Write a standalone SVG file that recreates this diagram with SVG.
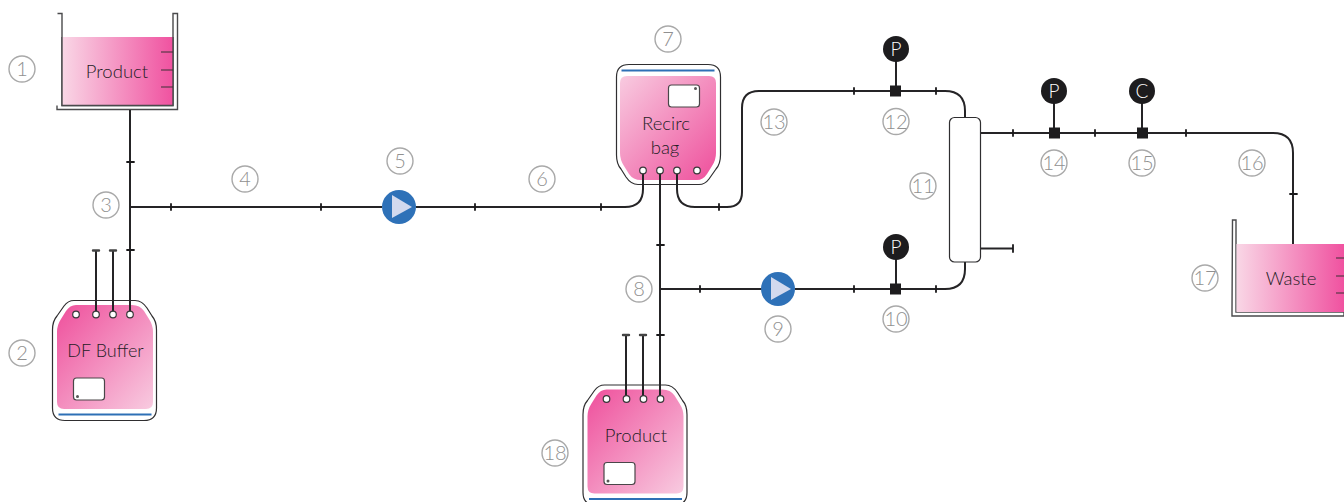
<svg xmlns="http://www.w3.org/2000/svg" width="1344" height="502" viewBox="0 0 1344 502">
<style>
.pipe{fill:none;stroke:#252426;stroke-width:2}
.tick{fill:none;stroke:#1a191b;stroke-width:1.8;stroke-linecap:round}
.cap{fill:none;stroke:#444;stroke-width:2.4;stroke-linecap:round}
.lbl{font-family:"Lato","Liberation Sans",sans-serif;font-size:18.5px;font-weight:300;fill:#231c24;text-anchor:middle;opacity:.99}
.num{font-family:"Lato","Liberation Sans",sans-serif;font-size:20px;font-weight:300;fill:#8f8f8f;text-anchor:middle;opacity:.99}
.ring{fill:#fff;stroke:#a9a9a9;stroke-width:1.4}
.wall{fill:#fff;stroke:#4a4a4c;stroke-width:1.4}
.bagline{fill:#fff;stroke:#2f2e30;stroke-width:1.2}
.hole{fill:#fff;stroke:#39383a;stroke-width:1.2}
.win{fill:#fff;stroke:#4a4649;stroke-width:1.2}
.blue{stroke:#2e70b6;stroke-width:2;fill:none}
.inst{fill:#1d1c1e}
.insttxt{font-family:"Lato","Liberation Sans",sans-serif;font-size:19px;font-weight:300;fill:#fff;text-anchor:middle;opacity:.99}
.pump{fill:#2e71b8}
.tri{fill:#d2d9ee}
.tickm{stroke:#3a3035;stroke-width:1}
</style>
<defs>
<linearGradient id="tank" x1="0" y1="0" x2="1" y2="0"><stop offset="0" stop-color="#f9d7e6"/><stop offset="1" stop-color="#f052a0"/></linearGradient>
<linearGradient id="bagfill" x1="0" y1="0" x2="1" y2="1"><stop offset="0.05" stop-color="#ef559f"/><stop offset="1" stop-color="#f8cbe0"/></linearGradient>
<g id="bag">
<path class="bagline" d="M22,0.5H83Q90,0.5 95,8L100,16Q104.5,21 104.5,30V108Q104.5,120.5 92,120.5H13Q0.5,120.5 0.5,108V30Q0.5,21 5,16L12,6Q16,0.5 22,0.5Z"/>
<path fill="url(#bagfill)" d="M24,5H80Q88,5 92,11L97,19Q101,25 101,32V102Q101,109 94,109H12Q5,109 5,102V32Q5,25 9,19L14,11Q18,5 24,5Z"/>
<path class="blue" d="M6.500,114.500H99.500"/>
<rect class="win" x="21.500" y="78" width="31" height="22" rx="3"/>
<circle cx="25.500" cy="96.500" r="1.500" fill="#555"/>
</g>
<g id="holes"><circle class="hole" cx="24" cy="14.500" r="3.300"/><circle class="hole" cx="44" cy="14.500" r="3.300"/><circle class="hole" cx="61" cy="14.500" r="3.300"/><circle class="hole" cx="78" cy="14.500" r="3.300"/></g>
</defs>
<g id="n1"><path class="wall" d="M57.500,13.500H62V105.500H173V13.500H177.500V109.500H57V105.500" fill="none"/><rect x="62" y="37" width="111" height="68" fill="url(#tank)"/><path class="wall" style="fill:none" d="M62,37V105.500H173V37"/><path class="tickm" d="M161,52H173M161,70H173M161,87H173"/><text class="lbl" x="117" y="78">Product</text></g>
<g id="n2"><use href="#bag" x="52" y="300"/><text class="lbl" x="105.500" y="357" style="font-size:18px">DF Buffer</text></g>
<g id="n7"><use href="#bag" transform="rotate(180 668.500 125)translate(616 65)"/><text class="lbl" x="666" y="130">Recirc</text><text class="lbl" x="665" y="154">bag</text></g>
<g id="n18"><use href="#bag" x="582.500" y="384.500"/><text class="lbl" x="636" y="442">Product</text></g>
<g id="n17"><path class="wall" d="M1232.500,220H1236V312H1344V316H1232V312Z" fill="#fff"/><rect x="1236.500" y="244" width="107.500" height="68" fill="url(#tank)"/><path class="tickm" d="M1336,258H1344M1336,276H1344M1336,293H1344"/><text class="lbl" x="1291" y="285">Waste</text></g>
<g id="connectors">
<path class="pipe" d="M130,110V313"/>
<path class="pipe" d="M130,207H382"/>
<path class="pipe" d="M96,251V313M113,251V313"/>
<path class="pipe" d="M416,207H625Q643,207 643,189V173"/>
<path class="pipe" d="M677,173V189Q677,207 695,207H727Q742,207 742,192V108Q742,91 759,91H945Q965,91 965,111V117"/>
<path class="pipe" d="M660,173V289"/>
<path class="pipe" d="M660,289H762M795,289H945Q965,289 965,269V262"/>
<path class="pipe" d="M660,289V397M626,336V397M643,336V397"/>
<path class="pipe" d="M981,133H1273Q1293,133 1293,153V244"/>
<path class="pipe" d="M981,248.500H1013"/>
<path class="pipe" d="M896,61V91M896,259V289M1054,103V133M1142,103V133"/>
<path class="tick" d="M127,162H134M127,250H134M171,204V210M321,204V210M475,204V210M601,204V210M719,204V210M657,245H664M657,335H664M854,88V94M936,88V94M700,286V292M854,286V292M936,286V292M1013,130V136M1095,130V136M1186,130V136M1290,194H1297M1013,245V252"/>
<path class="cap" d="M93,250.500H99M110,250.500H116M623,335H629M640,335H646"/>
</g>
<g id="ports"><use href="#holes" x="52" y="300"/><use href="#holes" transform="rotate(180 668.500 125)translate(616 65)"/><use href="#holes" x="582.500" y="384.500"/></g>
<g id="n5"><circle class="pump" cx="399" cy="207" r="17"/><path class="tri" d="M392,195L412,207L392,218Z"/></g>
<g id="n9"><circle class="pump" cx="778" cy="289" r="17"/><path class="tri" d="M771,277L791,289L771,300Z"/></g>
<g id="n11"><rect class="bagline" x="949.500" y="117.500" width="31" height="144.500" rx="5"/></g>
<g id="v10"><rect class="inst" x="890" y="283.500" width="11" height="11"/></g>
<g id="v12"><rect class="inst" x="890" y="85.500" width="11" height="11"/></g>
<g id="v14"><rect class="inst" x="1049" y="127.500" width="11" height="11"/></g>
<g id="v15"><rect class="inst" x="1137" y="127.500" width="11" height="11"/></g>
<g id="ip12"><circle class="inst" cx="896" cy="49" r="13"/><text class="insttxt" x="896" y="55.500">P</text></g>
<g id="ip10"><circle class="inst" cx="896" cy="247" r="13"/><text class="insttxt" x="896" y="253.500">P</text></g>
<g id="ip14"><circle class="inst" cx="1054" cy="91" r="13"/><text class="insttxt" x="1054" y="97.500">P</text></g>
<g id="ic15"><circle class="inst" cx="1142" cy="91" r="13"/><text class="insttxt" x="1142" y="97.500">C</text></g>
<g id="numbers">
<circle class="ring" cx="22" cy="69" r="13"/><text class="num" x="22" y="76">1</text>
<circle class="ring" cx="22" cy="353" r="13"/><text class="num" x="22" y="360">2</text>
<circle class="ring" cx="106" cy="205" r="13"/><text class="num" x="106" y="212">3</text>
<circle class="ring" cx="245" cy="179" r="13"/><text class="num" x="245" y="186">4</text>
<circle class="ring" cx="400" cy="161" r="13"/><text class="num" x="400" y="168">5</text>
<circle class="ring" cx="542" cy="179" r="13"/><text class="num" x="542" y="186">6</text>
<circle class="ring" cx="668" cy="39" r="13"/><text class="num" x="668" y="46">7</text>
<circle class="ring" cx="639" cy="289" r="13"/><text class="num" x="639" y="296">8</text>
<circle class="ring" cx="778" cy="329" r="13"/><text class="num" x="778" y="336">9</text>
<circle class="ring" cx="896" cy="319" r="13"/><text class="num" x="896" y="326">10</text>
<circle class="ring" cx="923" cy="186" r="13"/><text class="num" x="923" y="193">11</text>
<circle class="ring" cx="896" cy="121.500" r="13"/><text class="num" x="896" y="128.500">12</text>
<circle class="ring" cx="774" cy="122" r="13"/><text class="num" x="774" y="129">13</text>
<circle class="ring" cx="1054" cy="163" r="13"/><text class="num" x="1054" y="170">14</text>
<circle class="ring" cx="1142" cy="163" r="13"/><text class="num" x="1142" y="170">15</text>
<circle class="ring" cx="1252" cy="163" r="13"/><text class="num" x="1252" y="170">16</text>
<circle class="ring" cx="1205" cy="278" r="13"/><text class="num" x="1205" y="285">17</text>
<circle class="ring" cx="555" cy="453" r="13"/><text class="num" x="555" y="460">18</text>
</g>
</svg>
